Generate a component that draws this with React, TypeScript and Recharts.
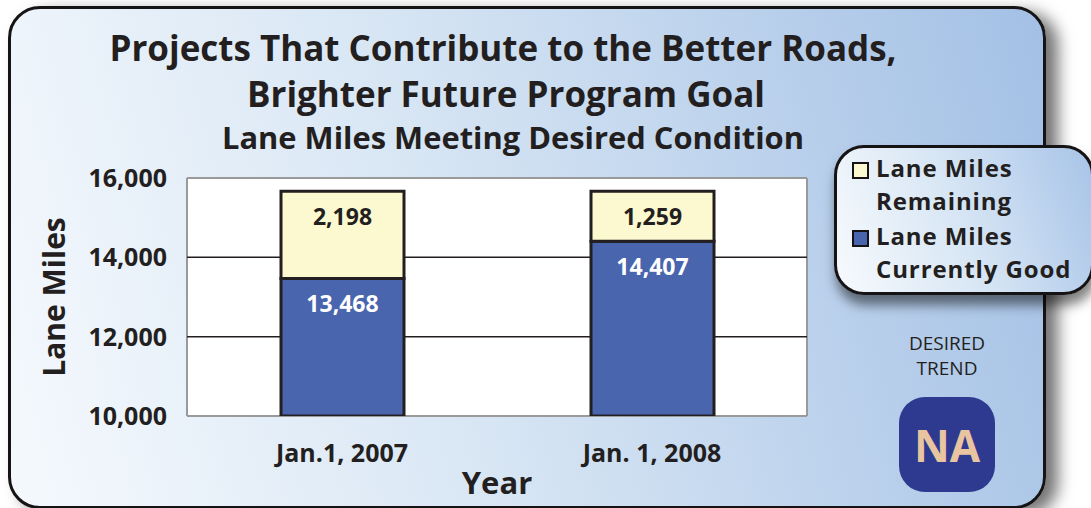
import { BarChart, Bar, XAxis, YAxis, CartesianGrid, LabelList } from 'recharts'

const years = ['Jan.1, 2007', 'Jan. 1, 2008']
const currentlyGood = [13468, 14407]
const remaining = [2198, 1259]
const yTicks = [10000, 12000, 14000, 16000]
const seriesNames = ['Lane Miles Currently Good', 'Lane Miles Remaining']

const BLUE = '#4865ad'
const CREAM = '#fcf8cf'
const INK = '#231f20'
const FONT = '"Open Sans", "DejaVu Sans", sans-serif'

const data = years.map((year, i) => ({ year, good: currentlyGood[i], remaining: remaining[i] }))

const fmt = (v: number) => Number(v).toLocaleString('en-US')

// value label sits near the top of each segment
const segmentLabel = (color: string) => (props: any) => {
  const { x, y, width, value } = props
  return (
    <text x={x + width / 2} y={y + 34} textAnchor="middle" fill={color}
      fontFamily={FONT} fontWeight={700} fontSize={23}>
      {fmt(value)}
    </text>
  )
}

const YTitle = (props: any) => {
  const { viewBox } = props
  const cx = viewBox.x + 65
  const cy = viewBox.y + viewBox.height / 2
  return (
    <text x={cx} y={cy} transform={`rotate(-90, ${cx}, ${cy})`} textAnchor="middle"
      fill={INK} fontFamily={FONT} fontWeight={700} fontSize={30}>
      Lane Miles
    </text>
  )
}

const XTitle = (props: any) => {
  const { viewBox } = props
  return (
    <text x={viewBox.x + viewBox.width / 2} y={viewBox.y + 78} textAnchor="middle"
      fill={INK} fontFamily={FONT} fontWeight={700} fontSize={31}>
      Year
    </text>
  )
}

const legendItems = [
  { lines: ['Lane Miles', 'Remaining'], color: CREAM, top: 151 },
  { lines: ['Lane Miles', 'Currently Good'], color: BLUE, top: 219 },
]

export default function App() {
  return (
    <div style={{ position: 'absolute', left: 0, top: 0, width: 1091, height: 508, overflow: 'hidden', fontFamily: FONT }}>
      {/* main panel */}
      <div style={{
        position: 'absolute', left: 8, top: 6, width: 1032, height: 497,
        border: '3px solid #161314', borderRadius: 32,
        background: 'linear-gradient(75deg, #f5f9fd 0%, #d8e6f4 42%, #a3c0e5 100%)',
        boxShadow: '12px 6px 16px rgba(0,0,0,0.55)',
      }} />

      <BarChart width={1091} height={508} data={data}
        margin={{ top: 178, right: 284, bottom: 0, left: 0 }}
        style={{ position: 'absolute', left: 0, top: 0 }}>
        <CartesianGrid fill="#ffffff" stroke="#9a9a9a" strokeWidth={2}
          horizontalValues={[10000, 16000]}
          verticalCoordinatesGenerator={({ offset }: any) => [offset.left, offset.left + offset.width]} />
        <CartesianGrid stroke={INK} strokeWidth={1.5} vertical={false} horizontalValues={[12000, 14000]} />
        <XAxis dataKey="year" height={92} axisLine={false} tickLine={false} tickSize={0} tickMargin={28}
          tick={{ fill: INK, fontFamily: FONT, fontWeight: 700, fontSize: 25 }}
          label={<XTitle />} />
        <YAxis width={187} domain={[10000, 16000]} ticks={yTicks} allowDataOverflow
          axisLine={false} tickLine={false} tickSize={0} tickMargin={20}
          tickFormatter={fmt}
          tick={{ fill: INK, fontFamily: FONT, fontWeight: 700, fontSize: 25 }}
          label={<YTitle />} />
        <Bar dataKey="good" name={seriesNames[0]} stackId="a" fill={BLUE} stroke={INK} strokeWidth={3}
          barSize={123} isAnimationActive={false}>
          <LabelList dataKey="good" content={segmentLabel('#ffffff')} />
        </Bar>
        <Bar dataKey="remaining" name={seriesNames[1]} stackId="a" fill={CREAM} stroke={INK} strokeWidth={3}
          barSize={123} isAnimationActive={false}>
          <LabelList dataKey="remaining" content={segmentLabel(INK)} />
        </Bar>
      </BarChart>

      {/* legend box */}
      <div style={{
        position: 'absolute', left: 834, top: 145, width: 254, height: 144,
        border: '3px solid #161314', borderRadius: 30,
        background: 'linear-gradient(70deg, #f7fafd 0%, #d6e5f4 50%, #a8c4e8 100%)',
        boxShadow: '2px 10px 12px rgba(0,0,0,0.5)',
      }} />
      {legendItems.map((item) => (
        <div key={item.lines[1]} style={{ position: 'absolute', left: 852, top: item.top }}>
          <div style={{
            position: 'absolute', left: 0, top: 11, width: 13, height: 13,
            border: '2px solid #161314', background: item.color,
          }} />
          {item.lines.map((line, j) => (
            <div key={line} style={{
              position: 'absolute', left: 24, top: j * 33, height: 33, whiteSpace: 'nowrap',
              fontSize: 24, fontWeight: 700, lineHeight: '33px', letterSpacing: 0.9, color: INK,
            }}>
              {line}
            </div>
          ))}
        </div>
      ))}

      {/* desired trend badge */}
      <div style={{
        position: 'absolute', left: 885, top: 331, width: 124, textAlign: 'center',
        fontSize: 19, lineHeight: '25px', color: INK,
      }}>
        DESIRED<br />TREND
      </div>
      <div style={{
        position: 'absolute', left: 899, top: 397, width: 96, height: 95, borderRadius: 26,
        background: '#2d3a8f', color: '#e9c4a1', fontSize: 44, fontWeight: 700,
        display: 'flex', alignItems: 'center', justifyContent: 'center',
      }}>
        NA
      </div>

      {/* titles */}
      <svg width={1091} height={160} style={{ position: 'absolute', left: 0, top: 0 }}>
        <text x={503} y={61} textAnchor="middle" textLength={787} lengthAdjust="spacingAndGlyphs"
          fontFamily={FONT} fontWeight={700} fontSize={36} fill={INK}>
          Projects That Contribute to the Better Roads,
        </text>
        <text x={506} y={107} textAnchor="middle" textLength={518} lengthAdjust="spacingAndGlyphs"
          fontFamily={FONT} fontWeight={700} fontSize={36} fill={INK}>
          Brighter Future Program Goal
        </text>
        <text x={513} y={149} textAnchor="middle" textLength={582} lengthAdjust="spacingAndGlyphs"
          fontFamily={FONT} fontWeight={700} fontSize={31} fill={INK}>
          Lane Miles Meeting Desired Condition
        </text>
      </svg>
    </div>
  )
}
